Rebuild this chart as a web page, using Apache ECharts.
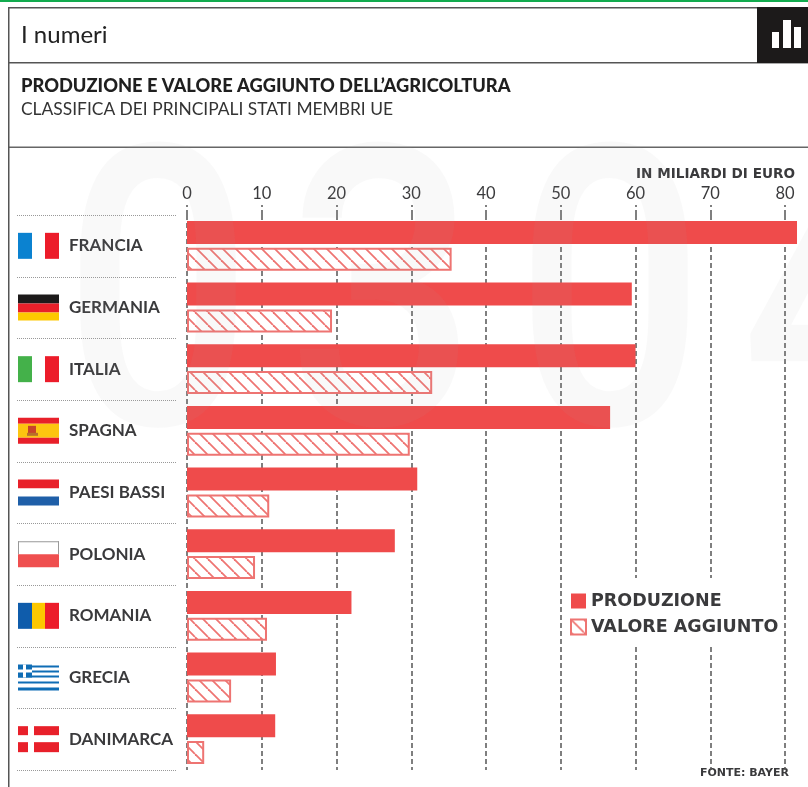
<!DOCTYPE html>
<html>
<head>
<meta charset="utf-8">
<style>html,body{margin:0;padding:0;background:#fff}#c{width:808px;height:787px}</style>
<script src="https://cdn.jsdelivr.net/npm/echarts@6/dist/echarts.min.js"></script>
</head>
<body>
<div id="c"></div>
<script>
// Agricultural output and value added, billions of euro
const countries = ['FRANCIA','GERMANIA','ITALIA','SPAGNA','PAESI BASSI','POLONIA','ROMANIA','GRECIA','DANIMARCA'];
const produzione = [81.6,59.5,60,56.6,30.8,27.8,22,11.9,11.8];
const valoreAggiunto = [35.4,19.4,32.8,29.8,11,9.1,10.7,5.9,2.3];
const flagKeys = ['fr','de','it','es','nl','pl','ro','gr','dk'];

const RED = '#ef4b4b';
const HATCH = '#ee7472';
const INK = '#3a3a3c';
const FONT = 'Lato, "Noto Sans", sans-serif';

// Diagonal hatch tile for the value-added bars
function hatchTile() {
  const s = 13, c = document.createElement('canvas');
  c.width = c.height = s;
  const g = c.getContext('2d');
  g.fillStyle = '#fff';
  g.fillRect(0, 0, s, s);
  g.strokeStyle = HATCH;
  g.lineWidth = 1.8;
  [-s, 0, s].forEach(d => {
    g.beginPath();
    g.moveTo(d, 0);
    g.lineTo(d + s, s);
    g.stroke();
  });
  return c;
}

// Flag drawing: stripes given as [x, y, w, h, colour] in a 41x26 box
const flagShapes = {
  fr: [[0,0,14,26,'#0b82d0'],[27,0,14,26,'#ec1c2a']],
  de: [[0,0,41,9,'#1c1a1a'],[0,9,41,9,'#e8202a'],[0,18,41,8,'#fdc800']],
  it: [[0,0,14,26,'#44b14a'],[27,0,14,26,'#ec1c2a']],
  es: [[0,0,41,6,'#e8202a'],[0,6,41,14,'#fdc510'],[0,20,41,6,'#e8202a'],[10,8,8,9,'#c8442a'],[9,15,11,3,'#b8702a']],
  nl: [[0,0,41,9,'#e8202a'],[0,9,41,8,'#ffffff'],[0,17,41,9,'#1f5fa8']],
  pl: [[0,0,41,1,'#999'],[0,0,1,13,'#999'],[40,0,1,13,'#999'],[0,13,41,13,'#ef4f4f']],
  ro: [[0,0,14,26,'#0f5cab'],[14,0,13,26,'#fdc800'],[27,0,14,26,'#ec1c2a']],
  gr: [[0,1,41,2,'#0f6db5'],[0,6,41,2,'#0f6db5'],[0,11,41,2,'#0f6db5'],[0,17,41,2,'#0f6db5'],[0,23,41,3,'#0f6db5'],
       [0,0,14,13,'#0f6db5'],[5,0,3,13,'#ffffff'],[0,5,14,3,'#ffffff']],
  dk: [[0,0,10,9,'#e8202a'],[16,0,25,9,'#e8202a'],[0,16,10,10,'#e8202a'],[16,16,25,10,'#e8202a']]
};

// One row of the label column: dotted rule above it, and its flag
function renderRow(params, api) {
  const row = api.value(1);
  const origin = api.coord([0, row]);
  const band = api.size([0, 1])[1];
  const x0 = origin[0] - 169, y0 = origin[1] - 13;
  const rule = y => ({
    type: 'line',
    shape: { x1: origin[0] - 170, y1: y, x2: origin[0] - 10, y2: y },
    style: { stroke: '#999', lineWidth: 1, lineDash: [1, 1] }
  });
  const children = flagShapes[flagKeys[row]].map(r => ({
    type: 'rect',
    shape: { x: x0 + r[0], y: y0 + r[1], width: r[2], height: r[3] },
    style: { fill: r[4] }
  }));
  children.push(rule(Math.round(origin[1] - band / 2) + 0.5));
  if (row === countries.length - 1) children.push(rule(Math.round(origin[1] + band / 2) + 0.5));
  return { type: 'group', children };
}

// Page furniture: header bands, rules, badge, footnote and the pale issue number across the page
const issueDigits = [['0', 158], ['3', 382], ['0', 610], ['4', 836]];
const frame = issueDigits.map(d => ({
  type: 'text', z: 100, silent: true, x: d[1], y: 326, scaleX: 0.85,
  style: { x: 0, y: 0, text: d[0], fill: 'rgba(175,175,175,0.07)', align: 'center', verticalAlign: 'middle',
           font: '500 392px Roboto, sans-serif' }
})).concat([
  { type:'rect', shape:{x:0,y:0,width:808,height:2}, style:{fill:'#12ab4e'} },
  { type:'rect', shape:{x:8,y:7,width:800,height:1.5}, style:{fill:'#555'} },
  { type:'rect', shape:{x:8,y:62,width:800,height:1.5}, style:{fill:'#555'} },
  { type:'rect', shape:{x:8,y:146.5,width:800,height:1.5}, style:{fill:'#666'} },
  { type:'rect', shape:{x:8,y:7,width:1.5,height:780}, style:{fill:'#555'} },
  { type:'rect', shape:{x:757,y:7,width:51,height:56}, style:{fill:'#1c1a1a'} },
  { type:'rect', shape:{x:772,y:32,width:7,height:16}, style:{fill:'#fff'} },
  { type:'rect', shape:{x:783,y:20,width:8,height:28}, style:{fill:'#fff'} },
  { type:'rect', shape:{x:794,y:27,width:7,height:21}, style:{fill:'#fff'} },
  { type:'text', style:{ x:21, y:35, text:'I numeri', fill:'#222', font:'24px '+FONT, verticalAlign:'middle' } },
  { type:'text', style:{ x:21, y:86, text:'PRODUZIONE E VALORE AGGIUNTO DELL’AGRICOLTURA', fill:'#1f1f1f', font:'900 18.3px '+FONT, verticalAlign:'middle' } },
  { type:'text', style:{ x:21, y:109, text:'CLASSIFICA DEI PRINCIPALI STATI MEMBRI UE', fill:'#333', font:'17.4px '+FONT, verticalAlign:'middle' } },
  { type:'text', style:{ x:795, y:174, text:'IN MILIARDI DI EURO', fill:INK, align:'right', font:'bold 13.6px "DejaVu Sans", sans-serif', verticalAlign:'middle' } },
  { type:'text', style:{ x:789, y:773, text:'FONTE: BAYER', fill:INK, align:'right', font:'bold 11px "DejaVu Sans", sans-serif', verticalAlign:'middle' } }
]);

const chart = echarts.init(document.getElementById('c'), null, { renderer: 'canvas' });
chart.setOption({
  animation: false,
  backgroundColor: '#fff',
  graphic: { elements: frame },
  grid: { left: 187, top: 215, width: 613, height: 555, containLabel: false },
  xAxis: {
    type: 'value', position: 'top', min: 0, max: 82, interval: 10,
    axisLine: { show: false },
    axisTick: { show: true, length: 10, lineStyle: { color: '#555', width: 1.5, type: [5, 3] } },
    axisLabel: { showMaxLabel: false, margin: 13, color: INK, fontFamily: FONT, fontSize: 16.5 },
    splitLine: { show: true, showMaxLine: false, lineStyle: { color: '#555', width: 1.5, type: [5, 3] } }
  },
  yAxis: {
    type: 'category', data: countries, inverse: true,
    axisLine: { show: false },
    axisTick: { show: false },
    axisLabel: { align: 'left', margin: 118, color: INK, fontFamily: FONT, fontWeight: 'bold', fontSize: 17 }
  },
  legend: {
    left: 565, top: 578, orient: 'vertical', icon: 'rect', itemWidth: 15, itemHeight: 15, itemGap: 8,
    padding: [14, 4, 10, 5], backgroundColor: '#fff', z: 10,
    textStyle: { color: INK, fontFamily: '"DejaVu Sans", sans-serif', fontSize: 17.5, fontWeight: 'bold' },
    data: ['PRODUZIONE', 'VALORE AGGIUNTO']
  },
  series: [
    { name: 'PRODUZIONE', type: 'bar', data: produzione, barWidth: 23, barGap: '17%',
      itemStyle: { color: RED } },
    { name: 'VALORE AGGIUNTO', type: 'bar', data: valoreAggiunto, barWidth: 23,
      itemStyle: { color: { image: hatchTile(), repeat: 'repeat' }, borderColor: HATCH, borderWidth: 2 } },
    { type: 'custom', silent: true, clip: false, renderItem: renderRow, z: 5,
      encode: { x: 0, y: 1 }, data: countries.map((c, i) => [0, i]) }
  ]
});
</script>
</body>
</html>
